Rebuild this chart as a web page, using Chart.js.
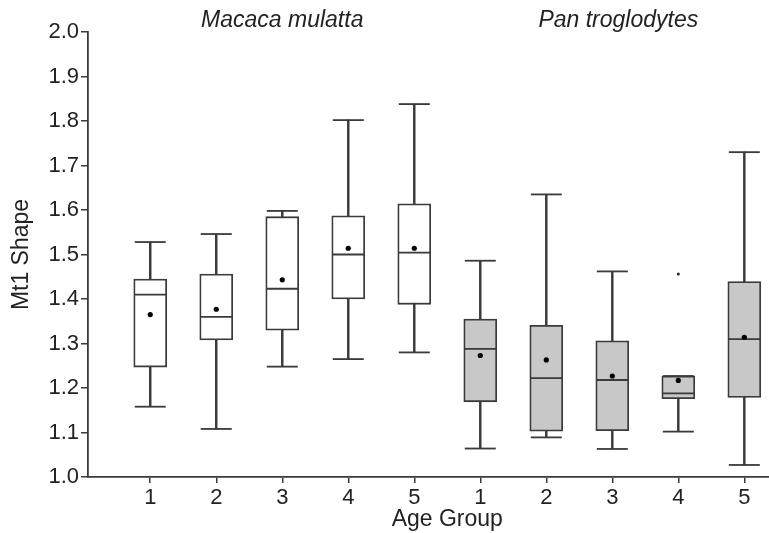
<!DOCTYPE html>
<html>
<head>
<meta charset="utf-8">
<title>Mt1 Shape by Age Group</title>
<script src="https://cdn.jsdelivr.net/npm/chart.js@4.4.1/dist/chart.umd.min.js"></script>
<style>
  html, body { margin: 0; padding: 0; background: #fff; }
  #wrap { width: 769px; height: 533px; }
</style>
</head>
<body>
<div id="wrap"><canvas id="myChart" width="769" height="533"></canvas></div>
<script>
// age group labels on the x axis (two species, five groups each)
const ageLabels = ['1', '2', '3', '4', '5', '1', '2', '3', '4', '5'];
const species = ['Macaca mulatta', 'Pan troglodytes'];
const speciesOf = [0, 0, 0, 0, 0, 1, 1, 1, 1, 1];

// box plot values
const whiskerLow  = [1.158, 1.108, 1.248, 1.265, 1.280, 1.064, 1.089, 1.063, 1.102, 1.027];
const q1          = [1.247, 1.308, 1.330, 1.400, 1.388, 1.169, 1.103, 1.104, 1.176, 1.179];
const median      = [1.410, 1.360, 1.423, 1.500, 1.504, 1.288, 1.222, 1.218, 1.188, 1.310];
const q3          = [1.445, 1.456, 1.585, 1.587, 1.614, 1.355, 1.341, 1.306, 1.227, 1.439];
const whiskerHigh = [1.528, 1.546, 1.598, 1.802, 1.838, 1.486, 1.635, 1.462, 1.227, 1.730];
const mean        = [1.365, 1.377, 1.443, 1.514, 1.514, 1.273, 1.263, 1.227, 1.217, 1.314];
const outliers    = [{ group: 8, value: 1.456 }];

const yTicks = [1.0, 1.1, 1.2, 1.3, 1.4, 1.5, 1.6, 1.7, 1.8, 1.9, 2.0];

const lineCol = '#3a3a3a';
const textCol = '#222';
const fills = ['#ffffff', '#c8c8c8'];
const fontFam = "'Liberation Sans', Arial, sans-serif";

const pos = ageLabels.map((l, i) => i + 1);

// species names above each group, and the x title centred between the groups
const extraText = {
    id: 'extraText',
    afterDraw(chart) {
        const ctx = chart.ctx;
        const x = chart.scales.x;
        ctx.save();
        ctx.fillStyle = textCol;
        ctx.textAlign = 'center';
        ctx.textBaseline = 'middle';
        ctx.font = 'italic 23px ' + fontFam;
        species.forEach((name, s) => {
            const idx = speciesOf.map((v, i) => v === s ? pos[i] : null).filter(v => v !== null);
            const mid = (idx[0] + idx[idx.length - 1]) / 2;
            ctx.fillText(name, x.getPixelForValue(mid) + s * 6, 21);
        });
        ctx.font = '23px ' + fontFam;
        ctx.fillText('Age Group', x.getPixelForValue((pos[0] + pos[pos.length - 1]) / 2), 520);
        ctx.restore();
    }
};

new Chart(document.getElementById('myChart').getContext('2d'), {
    data: {
        datasets: [
            {
                // whisker stems
                type: 'bar',
                data: pos.map((p, i) => ({ x: p, y: [whiskerLow[i], whiskerHigh[i]] })),
                backgroundColor: lineCol,
                borderWidth: 0,
                barThickness: 1.8,
                grouped: false,
                order: 4
            },
            {
                // boxes q1..q3
                type: 'bar',
                data: pos.map((p, i) => ({ x: p, y: [q1[i], q3[i]] })),
                backgroundColor: speciesOf.map(s => fills[s]),
                borderColor: lineCol,
                borderWidth: 1.8,
                borderSkipped: false,
                barThickness: 33,
                grouped: false,
                order: 3
            },
            {
                // whisker caps
                type: 'scatter',
                data: pos.map((p, i) => ({ x: p, y: whiskerLow[i] }))
                    .concat(pos.map((p, i) => ({ x: p, y: whiskerHigh[i] }))),
                pointStyle: 'line',
                pointRadius: 15.5,
                borderColor: lineCol,
                borderWidth: 1.8,
                order: 2
            },
            {
                // medians
                type: 'scatter',
                data: pos.map((p, i) => ({ x: p, y: median[i] })),
                pointStyle: 'line',
                pointRadius: 16,
                borderColor: lineCol,
                borderWidth: 1.8,
                order: 1
            },
            {
                // means
                type: 'scatter',
                data: pos.map((p, i) => ({ x: p, y: mean[i] })),
                pointStyle: 'circle',
                pointRadius: 2.6,
                backgroundColor: '#000',
                borderWidth: 0,
                order: 0
            },
            {
                type: 'scatter',
                data: outliers.map(o => ({ x: pos[o.group], y: o.value })),
                pointStyle: 'circle',
                pointRadius: 1.5,
                backgroundColor: '#222',
                borderWidth: 0,
                order: 0
            }
        ]
    },
    options: {
        responsive: false,
        animation: false,
        events: [],
        layout: { autoPadding: false, padding: { top: 32, right: 0, bottom: 0, left: 0 } },
        plugins: { legend: { display: false }, tooltip: { enabled: false } },
        scales: {
            x: {
                type: 'linear',
                min: 0.057,
                max: 10.374,
                offset: false,
                afterFit: s => { s.height = 56; },
                afterBuildTicks: s => { s.ticks = pos.map(v => ({ value: v })); },
                ticks: {
                    callback: (v) => ageLabels[Math.round(v) - 1] || '',
                    font: { family: fontFam, size: 22 },
                    color: textCol,
                    padding: 2,
                    maxRotation: 0,
                    autoSkip: false
                },
                grid: { display: true, offset: false, drawOnChartArea: false, drawTicks: true, tickLength: 6, color: lineCol, lineWidth: 1.5 },
                border: { display: true, color: lineCol, width: 1.8 }
            },
            y: {
                type: 'linear',
                min: 1.0,
                max: 2.0,
                afterFit: s => { s.width = 88; },
                afterBuildTicks: s => { s.ticks = yTicks.map(v => ({ value: v })); },
                ticks: {
                    callback: v => v.toFixed(1),
                    font: { family: fontFam, size: 22 },
                    color: textCol,
                    padding: 2
                },
                grid: { display: true, drawOnChartArea: false, drawTicks: true, tickLength: 7, color: lineCol, lineWidth: 1.5 },
                border: { display: true, color: lineCol, width: 1.8 },
                title: {
                    display: true,
                    text: 'Mt1 Shape',
                    font: { family: fontFam, size: 23 },
                    color: textCol,
                    padding: { top: 8, bottom: 0 }
                }
            }
        }
    },
    plugins: [extraText]
});
</script>
</body>
</html>
